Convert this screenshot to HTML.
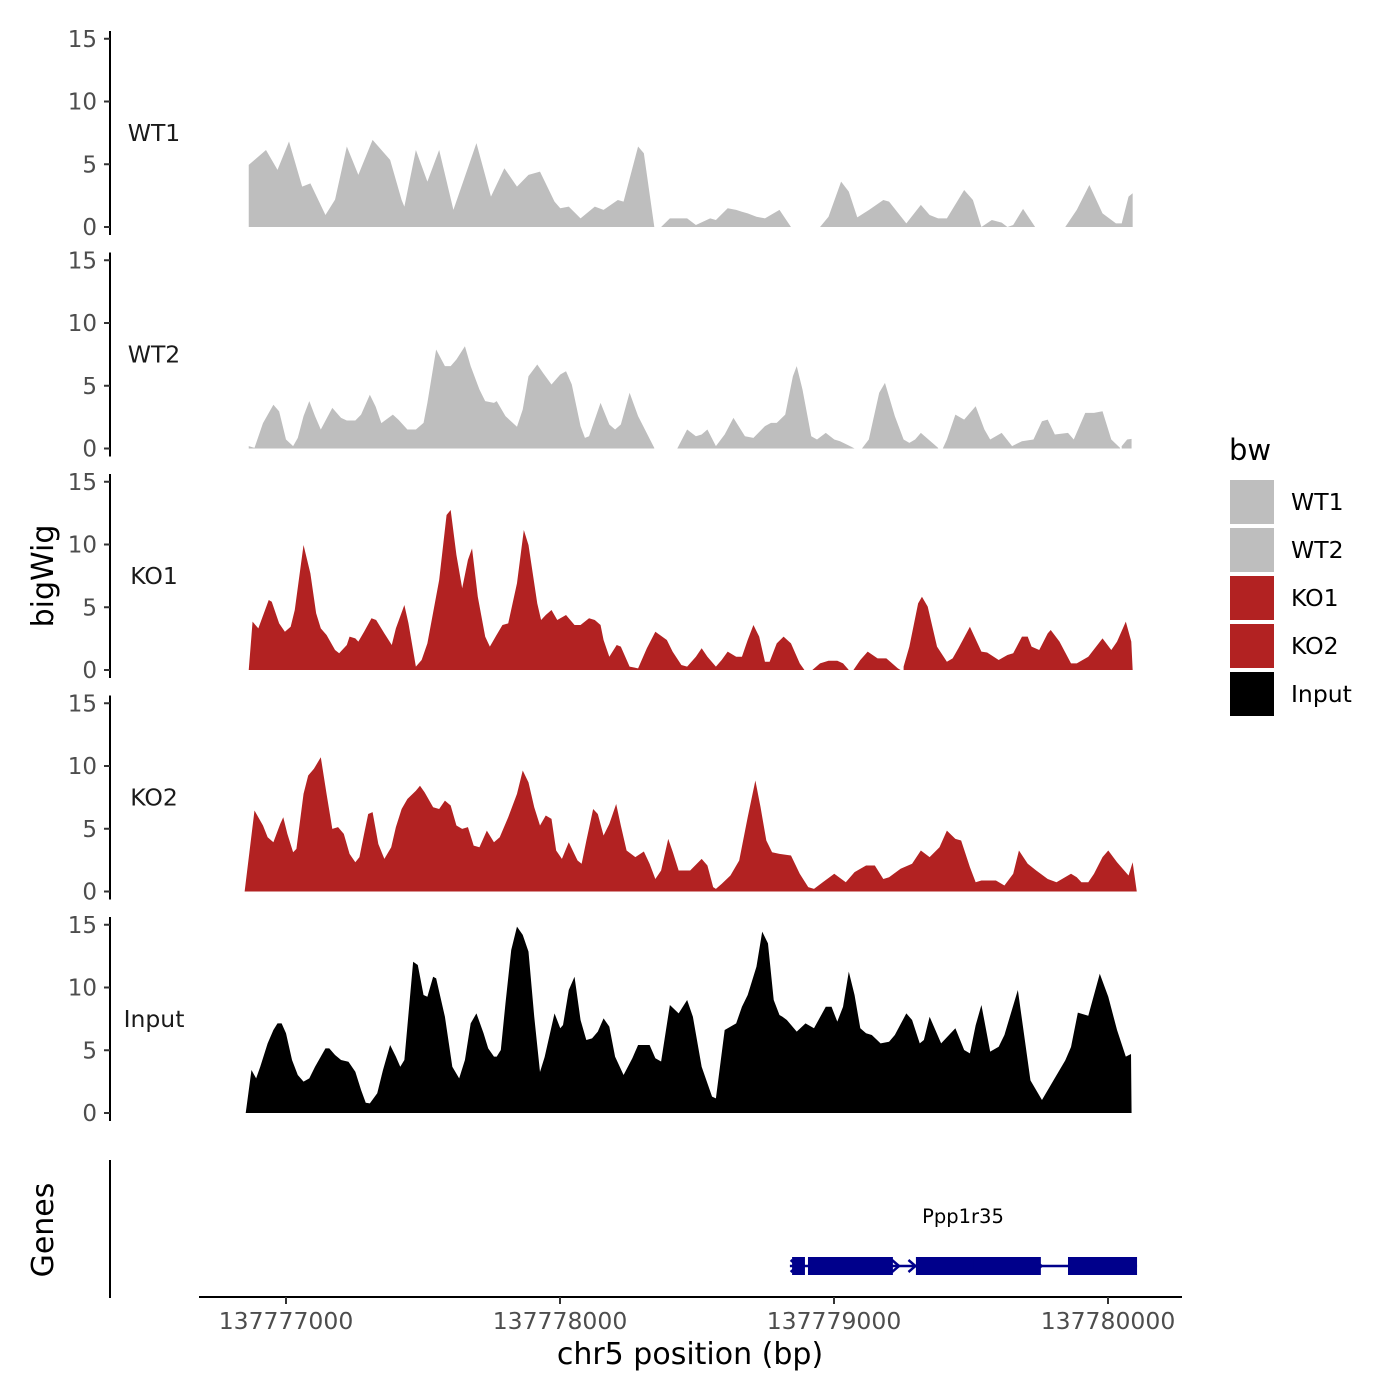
<!DOCTYPE html>
<html><head><meta charset="utf-8"><style>
html,body{margin:0;padding:0;background:#fff;}
svg{display:block;font-family:"DejaVu Sans","Liberation Sans",sans-serif;}
</style></head><body>
<svg id="chart" width="1400" height="1400" viewBox="0 0 1400 1400"></svg>
<script>
const chromOffset = 137777000;
const trackNames = ["WT1","WT2","KO1","KO2","Input"];
const trackColors = ["#bebebe","#bebebe","#b22222","#b22222","#000000"];
const yTicks = [0,5,10,15];
const xTicks = [137777000,137778000,137779000,137780000];
const xTickLabels = ["137777000","137778000","137779000","137780000"];

const wt1Pos = [-136,-73,-31,11,59,89,144,179,222,264,316,380,422,432,474,516,559,611,695,748,797,843,885,927,980,1001,1032,1075,1127,1159,1211,1232,1285,1306,1344,null,1369,1401,1464,1496,1548,1569,1612,1643,1664,1685,1717,1748,1801,1843,null,1949,1980,2026,2054,2085,2128,2180,2201,2264,2317,2349,2380,2412,2475,2507,2538,2576,2612,2633,2654,2690,2734,null,2844,2886,2932,2980,3029,3050,3075,3090];
const wt1Val = [4.95,6.14,4.55,6.81,3.22,3.48,0.96,2.18,6.41,4.15,6.94,5.35,2.15,1.62,6.14,3.62,6.14,1.36,6.68,2.42,4.68,3.22,4.15,4.41,2.02,1.49,1.62,0.69,1.62,1.36,2.15,2.02,6.41,5.88,0.03,null,0,0.69,0.69,0.16,0.69,0.56,1.49,1.36,1.22,1.09,0.82,0.69,1.36,0,null,0,0.82,3.62,2.82,0.77,1.36,2.15,2.02,0.29,1.76,0.96,0.69,0.69,2.95,2.15,0,0.56,0.35,0,0.16,1.44,0,null,0,1.36,3.35,1.09,0.29,0.29,2.42,2.69];

const wt2Pos = [-136,-115,-84,-46,-25,0,26,43,64,85,106,127,169,201,222,253,274,306,327,348,390,411,443,474,502,516,548,580,601,622,653,674,706,727,759,769,801,843,864,885,917,938,969,1001,1022,1043,1075,1091,1106,1148,1180,1201,1222,1254,1285,1344,null,1428,1464,1496,1517,1538,1569,1601,1633,1675,1706,1748,1770,1791,1822,1850,1864,1885,1917,1938,1970,2001,2022,2064,2075,null,2102,2127,2165,2186,2222,2254,2275,2296,2317,2338,2380,null,2397,2412,2443,2475,2517,2549,2570,2612,2650,2686,2728,2759,2780,2806,2854,2875,2917,2949,2980,3012,3044,null,3050,3070,3086];
const wt2Val = [0.19,0.05,2.02,3.49,2.96,0.72,0.19,0.85,2.58,3.77,2.58,1.51,3.24,2.44,2.23,2.23,2.7,4.28,3.35,2.02,2.7,2.28,1.51,1.51,2.04,3.64,7.89,6.56,6.56,7.09,8.15,6.56,4.7,3.77,3.64,3.77,2.58,1.73,3.11,5.76,6.69,6.03,5.1,5.9,6.16,5.1,1.78,0.85,0.98,3.64,1.91,1.51,1.91,4.44,2.58,0.05,null,0,1.51,0.98,1.12,1.51,0.19,1.12,2.44,0.98,0.85,1.78,2.04,2.04,2.7,5.76,6.56,4.7,0.98,0.72,1.25,0.72,0.58,0.13,0,null,0,0.72,4.44,5.23,2.58,0.72,0.45,0.72,1.25,0.85,0.05,null,0,0.72,2.7,2.3,3.37,1.51,0.72,1.25,0.19,0.58,0.72,2.17,2.3,1.12,1.25,0.72,2.84,2.84,2.97,0.72,0.05,null,0.19,0.72,0.77];

const ko1Pos = [-136,-122,-101,-63,-52,-25,-4,17,32,64,89,110,127,148,179,194,222,232,253,264,285,312,329,359,386,401,432,447,474,495,516,559,586,601,622,643,664,679,700,727,744,765,790,811,843,868,885,917,931,948,969,990,1022,1053,1075,1106,1127,1148,1159,1180,1207,1222,1254,1285,1317,1348,1390,1411,1443,1464,1496,1517,1538,1569,1590,1612,1643,1664,1685,1706,1727,1748,1765,1791,1816,1843,1875,1892,null,1921,1949,1980,2012,2033,2054,null,2071,2096,2123,2159,2191,2233,2243,null,2254,2275,2307,2321,2342,2376,2412,2433,2454,2496,2538,2559,2601,2633,2654,2686,2707,2721,2749,2780,2791,2823,2865,2886,2928,2980,3012,3033,3065,3085,3090];
const ko1Val = [0,3.85,3.32,5.58,5.44,3.72,3.05,3.45,4.78,9.96,7.7,4.52,3.32,2.79,1.59,1.33,1.99,2.66,2.52,2.26,3.05,4.12,3.98,2.92,1.99,3.32,5.18,3.72,0.27,0.8,2.12,7.17,12.35,12.75,9.16,6.51,8.77,9.69,5.84,2.66,1.86,2.66,3.59,3.72,6.91,11.16,9.96,5.31,3.98,4.38,4.78,3.98,4.38,3.59,3.59,4.12,3.98,3.59,2.39,1.06,1.99,1.86,0.27,0.13,1.73,3.05,2.39,1.46,0.4,0.27,1.06,1.73,1.06,0.27,0.8,1.46,1.06,1.06,2.39,3.59,2.66,0.66,0.66,2.12,2.66,2.12,0.53,0,null,0,0.53,0.74,0.74,0.53,0,null,0,0.8,1.46,0.93,0.93,0.13,0,null,0.27,1.86,5.31,5.84,5.05,1.86,0.66,0.93,1.73,3.45,1.46,1.39,0.8,1.2,1.33,2.66,2.66,1.86,1.59,2.92,3.19,2.26,0.53,0.53,1.06,2.52,1.59,2.26,3.85,2.26,0];

const ko2Pos = [-151,-115,-84,-67,-46,-21,-10,5,26,38,64,81,102,127,148,169,190,211,232,253,268,285,300,316,337,359,384,401,422,443,474,489,506,537,559,580,601,622,643,664,685,706,733,759,780,811,843,864,885,906,927,948,969,986,1007,1032,1064,1079,1096,1121,1138,1159,1180,1205,1222,1243,1275,1306,1327,1348,1369,1395,1412,1433,1475,1517,1538,1559,1569,1590,1622,1654,1685,1713,1732,1753,1774,1801,1843,1875,1906,1927,1959,2001,2043,2075,2117,2149,2180,2201,2243,2285,2317,2349,2385,2412,2443,2464,2496,2517,2538,2591,2622,2654,2675,2707,2738,2780,2812,2865,2886,2903,2928,2949,2980,3001,3033,3075,3090,3105];
const ko2Val = [0,6.45,5.26,4.32,3.92,5.39,5.92,4.59,3.13,3.4,7.78,9.24,9.78,10.7,7.78,4.99,5.13,4.59,3.0,2.33,2.74,4.59,6.18,6.32,3.78,2.6,3.53,5.13,6.57,7.37,8.03,8.43,7.9,6.71,6.57,7.24,6.85,5.26,4.99,5.13,3.66,3.53,4.85,3.92,4.32,5.92,7.78,9.64,8.7,6.71,5.26,6.06,5.79,3.27,2.6,3.92,2.47,2.21,4.03,6.57,6.18,4.46,5.39,6.97,5.26,3.27,2.74,3.19,2.21,1.0,1.67,4.19,3.13,1.67,1.67,2.6,2.07,0.35,0.21,0.61,1.27,2.47,5.92,8.84,6.71,4.06,3.13,3.0,2.87,1.41,0.35,0.21,0.74,1.41,0.74,1.54,2.07,2.07,1.0,1.14,1.81,2.21,3.27,2.74,3.53,4.85,4.19,4.06,1.94,0.74,0.88,0.88,0.48,1.41,3.27,2.21,1.67,1.0,0.74,1.41,1.14,0.74,0.74,1.41,2.74,3.27,2.33,1.27,2.33,0];

const inputPos = [-147,-126,-109,-94,-67,-46,-31,-16,0,22,43,64,85,106,144,158,179,201,228,253,274,291,306,333,354,380,401,417,432,464,481,502,516,537,548,580,607,632,653,674,695,721,738,759,769,784,801,822,843,864,885,906,927,944,980,1001,1011,1032,1053,1075,1096,1117,1138,1159,1180,1201,1232,1264,1285,1327,1348,1369,1401,1433,1464,1485,1517,1555,1569,1601,1643,1664,1685,1717,1738,1759,1780,1801,1812,1828,1864,1896,1927,1970,1991,2012,2033,2054,2075,2096,2117,2138,2170,2201,2222,2264,2285,2313,2328,2349,2391,2443,2475,2496,2517,2538,2570,2601,2622,2671,2717,2759,2801,2844,2865,2890,2928,2970,3001,3033,3065,3084,3086];
const inputVal = [0,3.43,2.76,3.69,5.55,6.61,7.14,7.14,6.35,4.22,3.03,2.5,2.76,3.69,5.15,5.15,4.62,4.22,4.08,3.29,1.83,0.82,0.77,1.57,3.43,5.42,4.49,3.69,4.22,12.05,11.79,9.4,9.26,10.86,10.73,7.67,3.69,2.76,4.22,7.14,7.94,6.35,5.15,4.49,4.49,5.02,8.74,12.99,14.85,14.19,12.86,7.67,3.27,4.46,7.94,6.75,7.01,9.8,10.86,7.41,5.82,5.95,6.48,7.54,6.88,4.49,3.03,4.36,5.42,5.42,4.36,4.1,8.61,7.94,9.0,7.67,3.69,1.3,1.17,6.61,7.14,8.47,9.4,11.66,14.45,13.52,9.0,7.81,7.67,7.41,6.48,7.14,6.75,8.47,8.47,7.28,8.47,11.26,9.4,6.75,6.35,6.22,5.55,5.68,6.22,7.94,7.41,5.55,5.82,7.67,5.55,6.75,5.02,4.75,6.99,8.61,4.89,5.28,6.22,9.8,2.6,1.04,2.6,4.19,5.26,8.0,7.75,11.1,9.26,6.61,4.49,4.7,0];

const geneName = "Ppp1r35";
const geneStart = 1839, geneEnd = 3106;
const exonStarts = [1847,1905,2299,2510,2854];
const exonEnds   = [1894,2215,2535,2755,3106];
const arrowPos = [1860,2230,2290,2750];

const trackPos = [wt1Pos,wt2Pos,ko1Pos,ko2Pos,inputPos];
const trackVal = [wt1Val,wt2Val,ko1Val,ko2Val,inputVal];

const NS = "http://www.w3.org/2000/svg";
const svg = document.getElementById('chart');
function mk(tag, attrs, parent){ const e=document.createElementNS(NS,tag); for(const k in attrs) e.setAttribute(k,attrs[k]); (parent||svg).appendChild(e); return e; }
const xScale = off => 286 + off*0.274;
const panelTop = i => 31 + 221.5*i;
const yScale = (i,v) => 227 + 221.5*i - v*12.55;

trackNames.forEach((name,i)=>{
  const g = mk('g',{});
  
  
  const pos = trackPos[i], val = trackVal[i];
  let seg = [];
  const flush = ()=>{
    if(seg.length>1){
      let d = 'M'+xScale(seg[0][0])+','+yScale(i,0);
      seg.forEach(p=>{ d += 'L'+xScale(p[0])+','+yScale(i,p[1]); });
      d += 'L'+xScale(seg[seg.length-1][0])+','+yScale(i,0)+'Z';
      const p = mk('path',{d:d,fill:trackColors[i]},g);
      
      
    }
    seg = [];
  };
  for(let k=0;k<pos.length;k++){
    if(pos[k]===null || val[k]===null){ flush(); continue; }
    seg.push([pos[k],val[k]]);
  }
  flush();
  const ax = mk('line',{x1:110,x2:110,y1:panelTop(i),y2:panelTop(i)+204,stroke:'#000','stroke-width':2});
  
  
  yTicks.forEach(t=>{
    const y = yScale(i,t);
    mk('line',{x1:104,x2:110,y1:y,y2:y,stroke:'#333','stroke-width':2});
    const tx = mk('text',{x:97,y:y+8,'text-anchor':'end','font-size':23,fill:'#4d4d4d'});
    tx.textContent = t;
    
    
  });
  const lab = mk('text',{x:154,y:yScale(i,7.5)+8,'text-anchor':'middle','font-size':23.5,fill:'#1a1a1a'});
  lab.textContent = name;
  
  
});

const yt = mk('text',{x:0,y:0,transform:'translate(53,576) rotate(-90)','text-anchor':'middle','font-size':30,fill:'#000'});
yt.textContent='bigWig';


const gt = mk('text',{x:0,y:0,transform:'translate(53,1230) rotate(-90)','text-anchor':'middle','font-size':30,fill:'#000'});
gt.textContent='Genes';



const gax = mk('line',{x1:110,x2:110,y1:1160,y2:1298,stroke:'#000','stroke-width':2});


const xax = mk('line',{x1:199,x2:1182,y1:1297,y2:1297,stroke:'#000','stroke-width':2});


xTicks.forEach((t,k)=>{
  const x = xScale(t-chromOffset);
  mk('line',{x1:x,x2:x,y1:1297,y2:1304,stroke:'#333','stroke-width':2});
  const tx = mk('text',{x:x,y:1329,'text-anchor':'middle','font-size':23.5,fill:'#4d4d4d'});
  tx.textContent = xTickLabels[k];
  
  
});
const xt = mk('text',{x:690,y:1364,'text-anchor':'middle','font-size':30,fill:'#000'});
xt.textContent='chr5 position (bp)';



const gg = mk('g',{});


mk('line',{x1:xScale(geneStart),x2:xScale(geneEnd),y1:1266,y2:1266,stroke:'#00008b','stroke-width':2.5},gg);
for(let k=0;k<exonStarts.length;k++){
  const e = mk('rect',{x:xScale(exonStarts[k]),y:1257,width:xScale(exonEnds[k])-xScale(exonStarts[k]),height:18,fill:'#00008b'},gg);
  
  
}
arrowPos.forEach(a=>{
  const x = xScale(a);
  mk('path',{d:'M'+(x-5)+',1260 L'+(x+2)+',1266 L'+(x-5)+',1272',stroke:'#00008b','stroke-width':2.5,fill:'none'},gg);
});
const gn = mk('text',{x:963,y:1223,'text-anchor':'middle','font-size':19.5,fill:'#000'},gg);
gn.textContent = geneName;



const lg = mk('g',{});


const lt = mk('text',{x:1229,y:460,'font-size':29,fill:'#000'},lg);
lt.textContent='bw';


trackNames.forEach((n,k)=>{
  const y = 480 + 48*k;
  const r = mk('rect',{x:1230,y:y,width:44,height:44,fill:trackColors[k]},lg);
  
  
  const t = mk('text',{x:1291,y:y+30,'font-size':23.5,fill:'#000'},lg);
  t.textContent = n;
  
  
});
</script>
</body></html>
